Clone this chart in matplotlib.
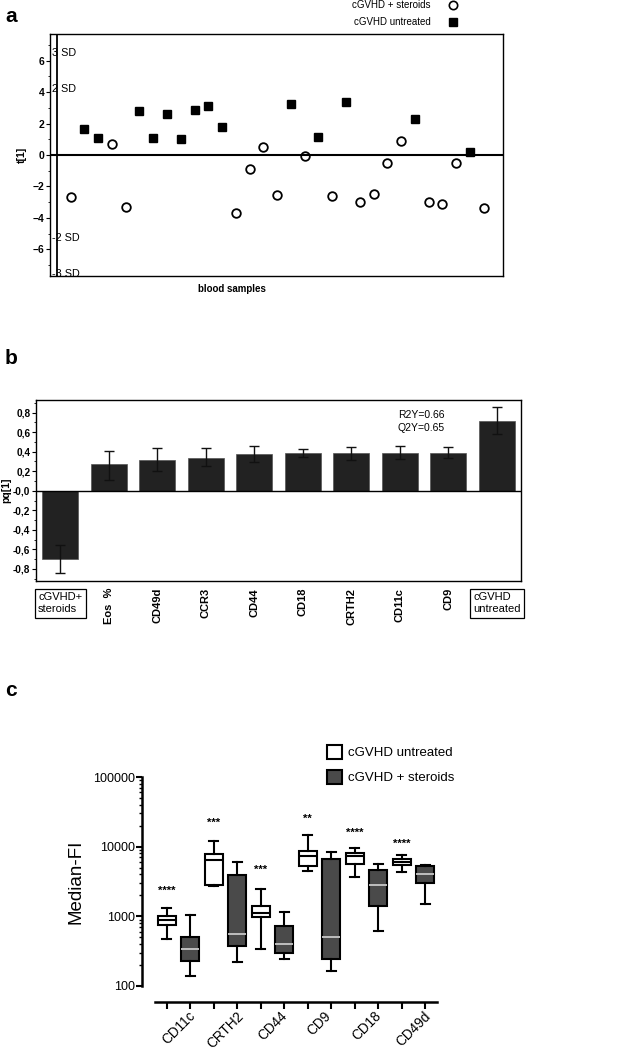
import numpy as np
import matplotlib
matplotlib.use("Agg")
import matplotlib.pyplot as plt
from matplotlib.lines import Line2D
from matplotlib.patches import Patch
from matplotlib.ticker import FixedLocator, FixedFormatter, LogLocator, NullFormatter
import matplotlib.transforms as mtransforms

plt.rcParams['font.family'] = ['Liberation Sans', 'DejaVu Sans']

# ---- panel a: score plot t[1] per blood sample
a_scores = [-2.70, 1.68, 1.09, 0.70, -3.32, 2.81, 1.11, 2.64, 1.00, 2.87, 3.13,
            1.81, -3.72, -0.89, 0.49, -2.57, 3.23, -0.09, 1.15, -2.64, 3.38,
            -3.00, -2.47, -0.51, 0.91, 2.28, -3.00, -3.09, -0.51, 0.19, -3.38]
a_groups = ['S', 'U', 'U', 'S', 'S', 'U', 'U', 'U', 'U', 'U', 'U',
            'U', 'S', 'S', 'S', 'S', 'U', 'S', 'U', 'S', 'U',
            'S', 'S', 'S', 'S', 'U', 'S', 'S', 'S', 'U', 'S']
a_sd_labels = ['3 SD', '2 SD', '-2 SD', '-3 SD']
a_sd_y = [6.5, 4.2, -5.3, -7.55]
a_yticks = [6, 4, 2, 0, -2, -4, -6]

# ---- panel b: loadings pq[1]
b_names = ['cGVHD+\nsteroids', 'Eos  %', 'CD49d', 'CCR3', 'CD44', 'CD18',
           'CRTH2', 'CD11c', 'CD9', 'cGVHD\nuntreated']
b_values = [-0.70, 0.27, 0.32, 0.34, 0.38, 0.386, 0.386, 0.39, 0.39, 0.715]
b_err_hi = [-0.56, 0.41, 0.44, 0.437, 0.46, 0.43, 0.45, 0.455, 0.45, 0.855]
b_err_lo = [-0.84, 0.11, 0.20, 0.25, 0.29, 0.345, 0.32, 0.325, 0.34, 0.58]
b_yticks = [0.8, 0.6, 0.4, 0.2, 0.0, -0.2, -0.4, -0.6, -0.8]
b_yticklabels = ['0,8', '0,6', '0,4', '0,2', '-0,0', '-0,2', '-0,4', '-0,6', '-0,8']

# ---- panel c: Median-FI boxplots (untreated, steroids) per marker
c_markers = ['CD11c', 'CRTH2', 'CD44', 'CD9', 'CD18', 'CD49d']
c_untreated = [  # whislo, q1, med, q3, whishi
    (473, 759, 876, 1022, 1317),
    (2755, 2848, 6370, 7760, 12190),
    (340, 979, 1116, 1407, 2441),
    (4430, 5275, 7430, 8570, 14700),
    (3670, 5700, 7430, 8200, 9560),
    (4380, 5400, 6100, 6580, 7510),
]
c_steroids = [
    (139, 226, 340, 511, 1033),
    (221, 375, 564, 3920, 6030),
    (247, 301, 405, 727, 1166),
    (162, 247, 505, 6580, 8290),
    (622, 1407, 2848, 4570, 5575),
    (1487, 3010, 4010, 5275, 5400),
]
c_stars = ['****', '***', '***', '**', '****', '****']
c_star_y = [2360, 21900, 4680, 25300, 15900, 11050]

W, H = 623, 1052
fig = plt.figure(figsize=(W / 100, H / 100), dpi=100)


def box(x0, y0, x1, y1):
    return [x0 / W, 1 - y1 / H, (x1 - x0) / W, (y1 - y0) / H]


def px_offset(dx, dy):
    return mtransforms.ScaledTranslation(dx / 100, dy / 100, fig.dpi_scale_trans)


# ================= panel a
ax = fig.add_axes(box(50, 34, 503, 276))
xs = np.arange(1, len(a_scores) + 1)
sc = np.array(a_scores)
grp = np.array(a_groups)
ax.plot(xs[grp == 'S'], sc[grp == 'S'], 'o', ms=6.2, mfc='white', mec='black', mew=1.3, ls='none')
ax.plot(xs[grp == 'U'], sc[grp == 'U'], 's', ms=6.2, mfc='black', mec='black', ls='none')
ax.axhline(0, color='black', lw=1.5)
ax.axvline(0, color='black', lw=1.3)
ax.set_xlim(-0.5, 32.4)
ax.set_ylim(-7.7, 7.7)
ax.set_xticks([])
ax.yaxis.set_major_locator(FixedLocator(a_yticks))
ax.yaxis.set_minor_locator(FixedLocator(np.arange(-7, 8, 1)))
ax.tick_params(axis='y', which='major', length=3, width=0.8, pad=1, labelsize=7.5)
ax.tick_params(axis='y', which='minor', length=1.5, width=0.6)
for t in ax.get_yticklabels():
    t.set_fontweight('bold')
for s in ax.spines.values():
    s.set_linewidth(1.0)
for lab, yy in zip(a_sd_labels, a_sd_y):
    ax.text(-0.35, yy, lab, fontsize=7.8, va='center', ha='left')
ax.set_ylabel('t[1]', fontsize=7.5, fontweight='bold', labelpad=4)
fig.text(198 / W, 1 - 289 / H, 'blood samples', fontsize=7, fontweight='bold', va='center')
fig.text(5 / W, 1 - 16 / H, 'a', fontsize=15, fontweight='bold', va='center')

a_handles = [Line2D([], [], marker='o', ls='none', ms=6, mfc='white', mec='black', mew=1.2),
             Line2D([], [], marker='s', ls='none', ms=6, mfc='black', mec='black')]
fig.legend(a_handles, ['cGVHD + steroids', 'cGVHD untreated'], markerfirst=False,
           loc='upper right', bbox_to_anchor=(458 / W, 1.0), frameon=False,
           fontsize=7, handlelength=1.0, handletextpad=1.8, labelspacing=0.75,
           borderpad=0, borderaxespad=0)

# ================= panel b
ax = fig.add_axes(box(36, 400, 521, 581))
bx = np.arange(len(b_values))
bv = np.array(b_values)
yerr = np.abs(np.array([bv - np.array(b_err_lo), np.array(b_err_hi) - bv]))
ax.bar(bx, bv, width=0.74, color='#222222', edgecolor='#555555', lw=0.5, zorder=2)
ax.errorbar(bx, bv, yerr=yerr, fmt='none', ecolor='#111111', elinewidth=1.0,
            capsize=3.5, capthick=1.0, zorder=3)
ax.axhline(0, color='black', lw=1.0, zorder=4)
ax.set_xlim(-0.5, 9.5)
ax.set_ylim(-0.925, 0.93)
ax.yaxis.set_major_locator(FixedLocator(b_yticks))
ax.yaxis.set_major_formatter(FixedFormatter(b_yticklabels))
ax.yaxis.set_minor_locator(FixedLocator(np.arange(-0.9, 0.91, 0.1)))
ax.tick_params(axis='y', which='major', length=3, width=0.8, pad=1, labelsize=7.2)
ax.tick_params(axis='y', which='minor', length=1.5, width=0.6)
for t in ax.get_yticklabels():
    t.set_fontweight('bold')
ax.set_xticks(bx)
ax.set_xticklabels(b_names, rotation=90, fontsize=8, fontweight='bold', va='top', ha='center')
ax.tick_params(axis='x', length=0, pad=5)
xl = ax.get_xticklabels()
for i in (0, len(xl) - 1):
    xl[i].set_rotation(0)
    xl[i].set_fontweight('normal')
    xl[i].set_fontsize(8)
    xl[i].set_multialignment('left')
    xl[i].set_linespacing(1.3)
    xl[i].set_bbox(dict(boxstyle='square,pad=0.3', fc='white', ec='black', lw=0.9))
    xl[i].set_transform(xl[i].get_transform() + px_offset(0, -4))
for s in ax.spines.values():
    s.set_linewidth(1.0)
ax.set_ylabel('pq[1]', fontsize=7.5, fontweight='bold', labelpad=1)
ax.text(6.96, 0.71, 'R2Y=0.66\nQ2Y=0.65', fontsize=7.5, va='center', ha='left', linespacing=1.3)
fig.text(5 / W, 1 - 359 / H, 'b', fontsize=15, fontweight='bold', va='center')

# ================= panel c
ax = fig.add_axes(box(155, 777, 437, 986))


def stats_list(rows):
    return [dict(whislo=r[0], q1=r[1], med=r[2], q3=r[3], whishi=r[4], fliers=[]) for r in rows]


pos_u = np.arange(len(c_markers)) * 2
pos_s = pos_u + 1
ax.bxp(stats_list(c_untreated), positions=pos_u, widths=0.78, patch_artist=True,
       showfliers=False,
       boxprops=dict(facecolor='white', edgecolor='black', lw=1.5),
       medianprops=dict(color='black', lw=1.5),
       whiskerprops=dict(color='black', lw=1.5),
       capprops=dict(color='black', lw=1.5), capwidths=0.38)
ax.bxp(stats_list(c_steroids), positions=pos_s, widths=0.78, patch_artist=True,
       showfliers=False,
       boxprops=dict(facecolor='#4a4a4a', edgecolor='black', lw=1.5),
       medianprops=dict(color='#c8c8c8', lw=1.3),
       whiskerprops=dict(color='black', lw=1.5),
       capprops=dict(color='black', lw=1.5), capwidths=0.38)
for p, st, yy in zip(pos_u, c_stars, c_star_y):
    ax.text(p, yy, st, fontsize=8, fontweight='bold', ha='center', va='center')

ax.set_yscale('log')
ax.set_ylim(100, 100000)
ax.set_xlim(-0.5, 11.5)
ax.yaxis.set_major_locator(FixedLocator([100, 1000, 10000, 100000]))
ax.yaxis.set_major_formatter(FixedFormatter(['100', '1000', '10000', '100000']))
ax.yaxis.set_minor_locator(LogLocator(base=10, subs=np.arange(2, 10)))
ax.yaxis.set_minor_formatter(NullFormatter())
ax.tick_params(axis='y', which='major', length=4, width=1.5, labelsize=9, pad=1)
ax.tick_params(axis='y', which='minor', length=2, width=1.0)
ax.xaxis.set_major_locator(FixedLocator(np.arange(12)))
ax.xaxis.set_major_formatter(NullFormatter())
ax.xaxis.set_minor_locator(FixedLocator(pos_u + 0.5))
ax.xaxis.set_minor_formatter(FixedFormatter(c_markers))
ax.tick_params(axis='x', which='major', length=5, width=1.5)
ax.tick_params(axis='x', which='minor', length=0, pad=5, labelsize=9.8, labelrotation=45)
for t in ax.get_xticklabels(minor=True):
    t.set_ha('right')
    t.set_va('center')
    t.set_rotation_mode('anchor')
    t.set_transform(t.get_transform() + px_offset(1, 0))
ax.spines['top'].set_visible(False)
ax.spines['right'].set_visible(False)
ax.spines['left'].set_position(('outward', 9.4))
ax.spines['bottom'].set_position(('outward', 11.5))
ax.spines['left'].set_linewidth(1.8)
ax.spines['bottom'].set_linewidth(1.8)
ax.set_ylabel('Median-FI', fontsize=13.5, labelpad=6)
fig.text(5 / W, 1 - 690 / H, 'c', fontsize=15, fontweight='bold', va='center')

c_handles = [Patch(facecolor='white', edgecolor='black', lw=1.5),
             Patch(facecolor='#4a4a4a', edgecolor='black', lw=1.5)]
fig.legend(c_handles, ['cGVHD untreated', 'cGVHD + steroids'], loc='upper left',
           bbox_to_anchor=(327 / W, 1 - 745 / H), frameon=False, fontsize=9.5,
           handlelength=1.1, handleheight=1.25, handletextpad=0.5, labelspacing=0.8,
           borderpad=0, borderaxespad=0)

fig.savefig('out.png', dpi=100)
